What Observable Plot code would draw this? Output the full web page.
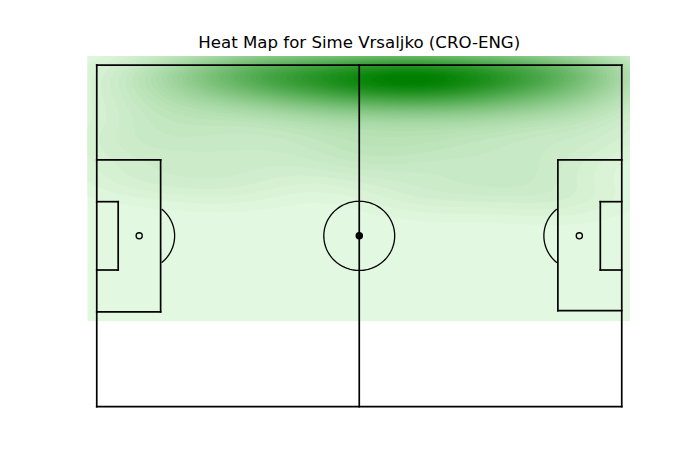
<!DOCTYPE html>
<html><head><meta charset="utf-8">
<script src="https://cdn.jsdelivr.net/npm/d3@7"></script>
<script src="https://cdn.jsdelivr.net/npm/@observablehq/plot@0.6"></script>
<style>html,body{margin:0;padding:0;background:#fff;}</style>
</head><body><div id="chart"></div>
<script>
// ---- data (pitch 120 x 80, y = 80 is the top touchline) ----
const title = "Heat Map for Sime Vrsaljko (CRO-ENG)";

// estimated event locations of the player
const eventX = [14,20,26,31,33,35,39,41,43,46,49,52,55,58,60,62,64,66,68,70,72,74,76,78,80,82,84,87,90,93,95,97,101,103,106,108,112,118,
                12,24,36,44,50,55,60,64,68,72,76,80,84,88,94,100,108,116,
                6,20,34,46,58,68,78,88,100,114,
                10,30,60,76,92,106];
const eventY = [78,77,79,78,78,77,79,79,78,77,79,78,77,78,79,78,77,78,79,78,77,78,79,78,77,78,79,77,78,79,78,78,77,79,78,78,79,78,
                71,70,73,72,74,71,73,72,74,71,73,72,74,71,73,70,72,71,
                62,64,59,66,61,64,60,65,58,63,
                54,52,56,50,53,49];
const kdeBandwidth = [12, 4.2];        // x, y (pitch units)
const kdeGridX = [-12, 132];
const kdeGridY = [20, 96];
const nLevels = 50;
const heatColors = ["#e3f8e0", "#008000"];

// pitch markings
const pitchSegments = [
  [0,0,0,80],[0,80,120,80],[120,80,120,0],[120,0,0,0],[60,0,60,80],
  [14.6,57.8,14.6,22.2],[0,57.8,14.6,57.8],[0,22.2,14.6,22.2],
  [120,57.8,105.4,57.8],[105.4,57.8,105.4,22.5],[120,22.5,105.4,22.5],
  [0,48,4.9,48],[4.9,48,4.9,32],[0,32,4.9,32],
  [120,48,115.1,48],[115.1,48,115.1,32],[120,32,115.1,32]
];
const pitchArcs = [
  {name: "centre", cx: 60, cy: 40, r: 8.1, from: 0, to: 360},
  {name: "leftArc", cx: 9.7, cy: 40, r: 8.1, from: 310, to: 410},
  {name: "rightArc", cx: 110.3, cy: 40, r: 8.1, from: 130, to: 230}
];
const spots = [
  {name: "centreSpot", x: 60, y: 40, filled: true},
  {name: "leftPen", x: 9.7, y: 40, filled: false},
  {name: "rightPen", x: 110.3, y: 40, filled: false}
];

// ---- KDE (gaussian product kernel) ----
const n = eventX.length;
const [bx, by] = kdeBandwidth;
function kde(x, y) {
  let s = 0;
  for (let i = 0; i < n; i++) {
    const dx = (x - eventX[i]) / bx, dy = (y - eventY[i]) / by;
    s += Math.exp(-0.5 * (dx * dx + dy * dy));
  }
  return s / (n * 2 * Math.PI * bx * by);
}
let maxD = 0;
for (let x = kdeGridX[0]; x <= kdeGridX[1]; x += 0.5)
  for (let y = kdeGridY[0]; y <= kdeGridY[1]; y += 0.5) maxD = Math.max(maxD, kde(x, y));
const thresholds = d3.range(nLevels).map(i => i * maxD / nLevels);

const segs = pitchSegments.map(([x1, y1, x2, y2]) => ({x1, y1, x2, y2}));
const arcPts = pitchArcs.flatMap(a => d3.range(0, 121).map(i => {
  const t = (a.from + (a.to - a.from) * i / 120) * Math.PI / 180;
  return {name: a.name, x: a.cx + a.r * Math.cos(t), y: a.cy + a.r * Math.sin(t)};
}));

const chart = Plot.plot({
  width: 700, height: 466,
  marginLeft: 87.5, marginRight: 70, marginTop: 56, marginBottom: 51.3,
  style: {background: "white"},
  x: {domain: [-2, 122], axis: null},
  y: {domain: [-2, 82], axis: null},
  color: {type: "linear", domain: [0, thresholds[thresholds.length - 1]], range: heatColors, interpolate: "rgb"},
  marks: [
    Plot.contour({x1: kdeGridX[0], x2: kdeGridX[1], y1: kdeGridY[0], y2: kdeGridY[1],
      fill: kde, thresholds, stroke: "none", clip: true}),
    Plot.link(segs, {x1: "x1", y1: "y1", x2: "x2", y2: "y2", stroke: "black", strokeWidth: 1.7, strokeLinecap: "square"}),
    Plot.line(arcPts, {x: "x", y: "y", z: "name", stroke: "black", strokeWidth: 1.3}),
    Plot.dot(spots, {x: "x", y: "y", r: 3.1, stroke: "black", strokeWidth: 1.3, fill: d => d.filled ? "black" : "none"}),
    Plot.text([title], {frameAnchor: "top", text: d => d, lineAnchor: "bottom", dy: -8.3,
      fontFamily: "DejaVu Sans", fontSize: 16.6, fill: "black"})
  ]
});
document.getElementById("chart").appendChild(chart);
</script>
</body></html>
